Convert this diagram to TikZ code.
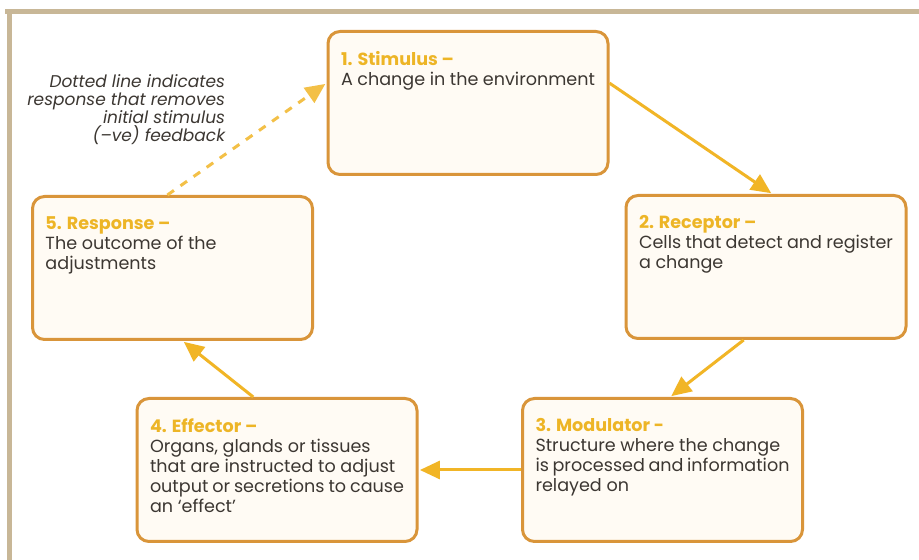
\documentclass[tikz,border=0pt]{standalone}
\usepackage{fontspec}
\setmainfont{Poppins}
\usepackage{xcolor}
\usepackage{tikz}
\usetikzlibrary{arrows.meta}

\definecolor{boxedge}{HTML}{D9953A}
\definecolor{boxfill}{HTML}{FFFBF4}
\definecolor{titlecol}{HTML}{EDB526}
\definecolor{bodycol}{HTML}{3C3732}
\definecolor{arrowcol}{HTML}{F1B526}
\definecolor{framecol}{HTML}{C8B797}

\newcommand{\stagetext}[2]{\begin{minipage}[t][2.575cm][t]{6.35cm}{\color{titlecol}\bfseries #1}\\ #2\end{minipage}}

\begin{document}
\begin{tikzpicture}[
    font=\fontsize{12.5}{14.2}\selectfont,
    stage/.style={draw=boxedge, line width=0.075cm, rounded corners=0.3cm, fill=boxfill,
      minimum width=7cm, minimum height=3.575cm, inner xsep=0.325cm, inner ysep=0.5cm, text=bodycol},
    flow/.style={draw=arrowcol, line width=0.075cm, shorten >=1pt, -{Triangle[length=0.5cm,width=0.45cm]}},
    feedback/.style={flow, draw=arrowcol!85, dash pattern=on 0.2cm off 0.2cm}
]
    % Page
    \fill[white] (0,0) rectangle (22.975,14);
    \useasboundingbox (0,0) rectangle (22.975,14);
    \fill[framecol] (0.125,13.65) rectangle (22.975,13.775);
    \fill[framecol] (0.175,0) rectangle (0.3,13.775);

    % Stages
    \node[stage] (stim) at (11.7,11.425) {\stagetext{1. Stimulus –}{A change in the environment}};
    \node[stage] (recep) at (19.15,7.325) {\stagetext{2. Receptor –}{Cells that detect and register\\ a change}};
    \node[stage] (modul) at (16.5625,2.25) {\stagetext{3. Modulator -}{Structure where the change\\ is processed and information\\ relayed on}};
    \node[stage] (effec) at (6.925,2.25) {\stagetext{4. Effector –}{Organs, glands or tissues\\ that are instructed to adjust\\ output or secretions to cause\\ an ‘effect’}};
    \node[stage] (resp) at (4.3125,7.3) {\stagetext{5. Response –}{The outcome of the\\ adjustments}};

    % Note
    \node[anchor=north east, align=right, text=bodycol, font=\itshape\fontsize{12.1}{12.3}\selectfont] (note) at (5.75,12.25)
        {Dotted line indicates\\ response that removes\\ initial stimulus\\ (–ve) feedback};

    % Arrows
    \draw[flow] (stim.8.5) -- (recep.85);
    \draw[flow] (recep.253.5) -- (modul.84);
    \draw[flow] (modul.west) -- (effec.east);
    \draw[flow] (effec.108) -- (resp.278);
    \draw[feedback] (resp.94) -- (stim.172.8);
\end{tikzpicture}
\end{document}
